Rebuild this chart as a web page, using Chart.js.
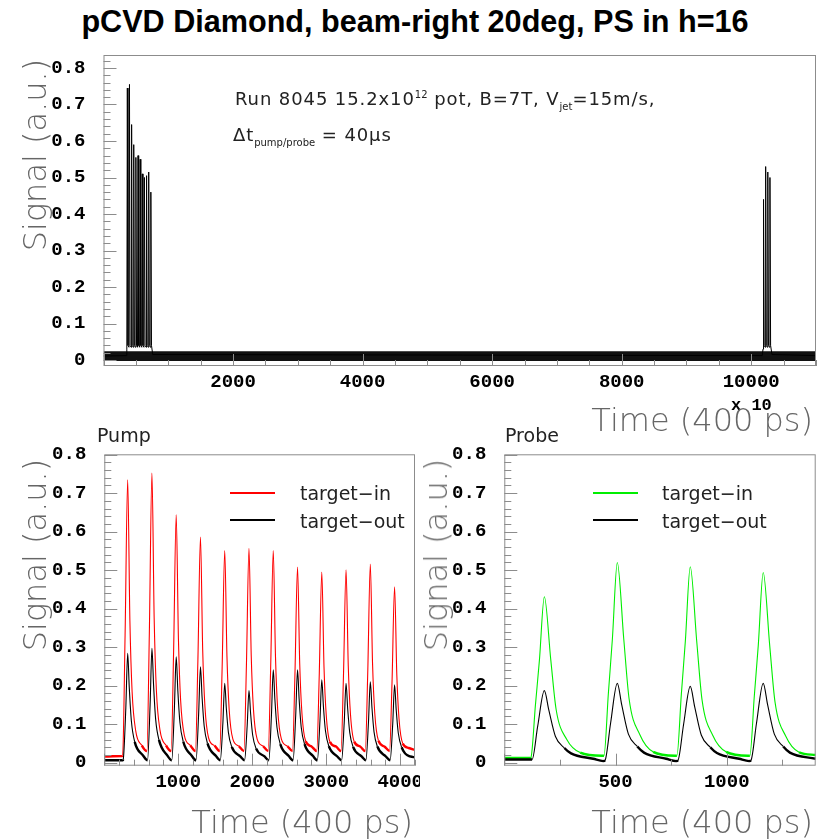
<!DOCTYPE html>
<html>
<head>
<meta charset="utf-8">
<script src="https://cdn.jsdelivr.net/npm/chart.js@4"></script>
<style>
  html, body { margin: 0; padding: 0; background: #fff; }
  #page { position: relative; width: 822px; height: 840px; overflow: hidden; }
  .box { position: absolute; }
  .box canvas { display: block; }
  .txt { position: absolute; white-space: nowrap; line-height: 1; }
  .axt { font-family: "DejaVu Sans", sans-serif; font-weight: 200; font-size: 32px; color: #666; }
  .rot { transform: translate(-50%, -50%) rotate(-90deg); }
  .note { font-family: "DejaVu Sans", sans-serif; font-size: 18px; color: #222; letter-spacing: 0.9px; }
  .note sub, .note sup { font-size: 10px; letter-spacing: 0; }
  .leg { font-family: "DejaVu Sans", sans-serif; font-size: 19px; color: #222; }
  .legline { position: absolute; width: 45px; height: 2px; }
</style>
</head>
<body>
<div id="page">
  <div class="box" style="left:0;top:40px;"><canvas id="overview" width="822" height="370"></canvas></div>
  <div class="box" style="left:0;top:420px;"><canvas id="pump" width="420" height="420"></canvas></div>
  <div class="box" style="left:410px;top:420px;"><canvas id="probe" width="412" height="420"></canvas></div>

  <div class="txt" style="left:0;width:830px;top:6px;text-align:center;font-family:'Liberation Sans',Arial,sans-serif;font-weight:bold;font-size:30.6px;color:#000;">pCVD Diamond, beam-right 20deg, PS in h=16</div>

  <div class="txt note" style="left:235px;top:90px;">Run 8045 15.2x10<sup>12</sup> pot, B=7T, V<sub>jet</sub>=15m/s,</div>
  <div class="txt note" style="left:233px;top:126px;">&Delta;t<sub>pump/probe</sub> = 40&mu;s</div>

  <div class="txt" style="left:731px;top:397px;font-family:'Liberation Mono',monospace;font-weight:bold;font-size:17px;color:#000;">x 10</div>

  <div class="txt axt rot" style="left:35px;top:155px;">Signal (a.u.)</div>
  <div class="txt axt" style="right:9px;top:404px;">Time (400 ps)</div>

  <div class="txt leg" style="left:97px;top:426px;">Pump</div>
  <div class="txt axt rot" style="left:35px;top:555px;">Signal (a.u.)</div>
  <div class="txt axt" style="right:409px;top:806px;">Time (400 ps)</div>
  <div class="legline" style="left:230px;top:492px;background:#ff0000;"></div>
  <div class="legline" style="left:230px;top:519px;background:#000;"></div>
  <div class="txt leg" style="left:300px;top:484px;">target&minus;in</div>
  <div class="txt leg" style="left:300px;top:512px;">target&minus;out</div>

  <div class="txt leg" style="left:505px;top:426px;">Probe</div>
  <div class="txt axt rot" style="left:436px;top:555px;">Signal (a.u.)</div>
  <div class="txt axt" style="right:9px;top:806px;">Time (400 ps)</div>
  <div class="legline" style="left:593px;top:492px;background:#00ee00;"></div>
  <div class="legline" style="left:593px;top:519px;background:#000;"></div>
  <div class="txt leg" style="left:662px;top:484px;">target&minus;in</div>
  <div class="txt leg" style="left:662px;top:512px;">target&minus;out</div>
</div>

<script>
// tick labels
const signalTicks = [0, 0.1, 0.2, 0.3, 0.4, 0.5, 0.6, 0.7, 0.8];
const overviewTimeTicks = [2000, 4000, 6000, 8000, 10000];
const pumpTimeTicks = [1000, 2000, 3000, 4000];
const probeTimeTicks = [500, 1000];

// overview trace (time in units of 10 x 400 ps)
const overviewTrace = [
  [0, 0.011], [355, 0.012],
  [360, 0.03], [368, 0.745], [378, 0.04],
  [393, 0.035], [401, 0.755], [411, 0.04],
  [426, 0.035], [434, 0.645], [444, 0.04],
  [459, 0.035], [467, 0.59], [477, 0.04],
  [492, 0.035], [500, 0.555], [510, 0.04],
  [525, 0.035], [533, 0.56], [543, 0.04],
  [558, 0.035], [566, 0.55], [576, 0.04],
  [591, 0.035], [599, 0.51], [609, 0.04],
  [624, 0.035], [632, 0.50], [642, 0.04],
  [657, 0.035], [665, 0.505], [675, 0.04],
  [690, 0.035], [698, 0.515], [708, 0.04],
  [723, 0.035], [731, 0.46], [741, 0.04],
  [760, 0.015], [10170, 0.012],
  [10182, 0.03], [10190, 0.44], [10200, 0.04],
  [10215, 0.035], [10223, 0.53], [10233, 0.04],
  [10248, 0.035], [10256, 0.515], [10266, 0.04],
  [10281, 0.035], [10289, 0.50], [10299, 0.04],
  [10320, 0.015], [11000, 0.012]
];
// noise envelope of the overview baseline
const overviewNoiseLow = [[0, -0.003], [11000, -0.003]];
const overviewNoiseHigh = [[0, 0.024], [11000, 0.024]];

// pump, target-in
const pumpIn = [
  [0, 0.016], [240, 0.017],
  [248, 0.018], [281, 0.331], [316, 0.735], [346, 0.368], [376, 0.184], [426, 0.081], [506, 0.045],
  [576, 0.03], [609, 0.338], [644, 0.752], [674, 0.376], [704, 0.188], [754, 0.083], [834, 0.045],
  [904, 0.03], [937, 0.29], [972, 0.644], [1002, 0.322], [1032, 0.161], [1082, 0.071], [1162, 0.045],
  [1232, 0.03], [1265, 0.264], [1300, 0.586], [1330, 0.293], [1360, 0.147], [1410, 0.064], [1490, 0.044],
  [1560, 0.03], [1593, 0.248], [1628, 0.551], [1658, 0.276], [1688, 0.138], [1738, 0.061], [1818, 0.043],
  [1888, 0.03], [1921, 0.251], [1956, 0.557], [1986, 0.279], [2016, 0.139], [2066, 0.061], [2146, 0.043],
  [2216, 0.03], [2249, 0.248], [2284, 0.551], [2314, 0.276], [2344, 0.138], [2394, 0.061], [2474, 0.043],
  [2544, 0.03], [2577, 0.229], [2612, 0.508], [2642, 0.254], [2672, 0.127], [2722, 0.056], [2802, 0.042],
  [2872, 0.03], [2905, 0.223], [2940, 0.495], [2970, 0.248], [3000, 0.124], [3050, 0.054], [3130, 0.042],
  [3200, 0.03], [3233, 0.225], [3268, 0.501], [3298, 0.251], [3328, 0.125], [3378, 0.055], [3458, 0.042],
  [3528, 0.03], [3561, 0.232], [3596, 0.516], [3626, 0.258], [3656, 0.129], [3706, 0.057], [3786, 0.042],
  [3856, 0.03], [3889, 0.206], [3924, 0.457], [3954, 0.229], [3984, 0.114], [4034, 0.05], [4114, 0.038], [4200, 0.033]
];
// pump, target-out
const pumpOut = [
  [0, 0.006], [250, 0.006],
  [256, 0.008], [291, 0.142], [316, 0.284], [338, 0.193], [366, 0.108], [411, 0.054], [526, 0.018],
  [584, 0.006], [619, 0.149], [644, 0.297], [666, 0.202], [694, 0.113], [739, 0.059], [854, 0.018],
  [912, 0.006], [947, 0.138], [972, 0.275], [994, 0.187], [1022, 0.105], [1067, 0.055], [1182, 0.018],
  [1240, 0.006], [1275, 0.125], [1300, 0.249], [1322, 0.169], [1350, 0.095], [1395, 0.05], [1510, 0.017],
  [1568, 0.006], [1603, 0.103], [1628, 0.206], [1650, 0.14], [1678, 0.078], [1723, 0.041], [1838, 0.016],
  [1896, 0.006], [1931, 0.094], [1956, 0.187], [1978, 0.127], [2006, 0.071], [2051, 0.037], [2166, 0.016],
  [2224, 0.006], [2259, 0.121], [2284, 0.241], [2306, 0.164], [2334, 0.092], [2379, 0.048], [2494, 0.017],
  [2552, 0.006], [2587, 0.121], [2612, 0.241], [2634, 0.164], [2662, 0.092], [2707, 0.048], [2822, 0.017],
  [2880, 0.006], [2915, 0.108], [2940, 0.215], [2962, 0.146], [2990, 0.082], [3035, 0.043], [3150, 0.016],
  [3208, 0.006], [3243, 0.103], [3268, 0.206], [3290, 0.14], [3318, 0.078], [3363, 0.041], [3478, 0.016],
  [3536, 0.006], [3571, 0.105], [3596, 0.21], [3618, 0.143], [3646, 0.08], [3691, 0.042], [3806, 0.016],
  [3864, 0.006], [3899, 0.101], [3924, 0.202], [3946, 0.137], [3974, 0.077], [4019, 0.04], [4134, 0.016], [4200, 0.014]
];

// probe, target-in
const probeIn = [
  [0, 0.012], [115, 0.012],
  [120, 0.014], [140, 0.15], [158, 0.267], [180, 0.431], [209, 0.267], [233, 0.138], [281, 0.06], [341, 0.026], [440, 0.018],
  [448, 0.018], [468, 0.181], [486, 0.322], [508, 0.52], [537, 0.322], [561, 0.166], [609, 0.073], [669, 0.028], [768, 0.018],
  [776, 0.018], [796, 0.178], [814, 0.316], [836, 0.509], [865, 0.316], [889, 0.163], [937, 0.071], [997, 0.028], [1096, 0.018],
  [1104, 0.018], [1124, 0.173], [1142, 0.306], [1164, 0.494], [1193, 0.306], [1217, 0.158], [1265, 0.069], [1325, 0.027], [1400, 0.02]
];
// probe, target-out
const probeOut = [
  [0, 0.008], [120, 0.008],
  [125, 0.008], [150, 0.094], [180, 0.187], [200, 0.137], [230, 0.068], [270, 0.038], [300, 0.024], [400, 0.01], [445, 0.004],
  [453, 0.006], [478, 0.103], [508, 0.206], [528, 0.15], [558, 0.074], [598, 0.042], [628, 0.026], [728, 0.01], [773, 0.004],
  [781, 0.006], [806, 0.099], [836, 0.198], [856, 0.145], [886, 0.071], [926, 0.04], [956, 0.025], [1056, 0.01], [1101, 0.004],
  [1109, 0.006], [1134, 0.103], [1164, 0.206], [1184, 0.15], [1214, 0.074], [1254, 0.042], [1284, 0.026], [1400, 0.01]
];

Chart.defaults.font.family = "'Liberation Mono', monospace";
Chart.defaults.color = '#000';

// ROOT style frame with ticks drawn on the inside
const rootFrame = {
  id: 'rootFrame',
  afterDraw(chart, args, opts) {
    const { ctx, chartArea: a, scales: { x, y } } = chart;
    ctx.save();
    ctx.strokeStyle = '#8c8c8c';
    ctx.lineWidth = 1;
    ctx.strokeRect(a.left + 0.5, a.top + 0.5, a.right - a.left - 1, a.bottom - a.top - 1);
    ctx.beginPath();
    for (let i = Math.ceil(y.min / opts.yMinor); i * opts.yMinor <= y.max; i++) {
      const py = Math.round(y.getPixelForValue(i * opts.yMinor)) + 0.5;
      const len = i % opts.yPer === 0 ? 13 : 7;
      ctx.moveTo(a.left, py); ctx.lineTo(a.left + len, py);
    }
    for (let i = Math.ceil(x.min / opts.xMinor); i * opts.xMinor <= x.max; i++) {
      const px = Math.round(x.getPixelForValue(i * opts.xMinor)) + 0.5;
      const len = i % opts.xPer === 0 ? 12 : 6;
      ctx.moveTo(px, a.bottom); ctx.lineTo(px, a.bottom - len);
    }
    ctx.stroke();
    ctx.restore();
  }
};

// noisy baseline looks thicker than the clean pulse edges
const noisyWidth = c => (c.p0.parsed.y < 0.06 && c.p1.parsed.y < 0.06) ? 2.4 : 1.1;

function makeChart(id, datasets, xr, xTicks, yr, yWidth, xHeight, pad, frame) {
  return new Chart(document.getElementById(id), {
    type: 'line',
    data: { datasets },
    options: {
      responsive: false,
      animation: false,
      devicePixelRatio: 1,
      layout: { padding: pad },
      plugins: { legend: { display: false }, tooltip: { enabled: false }, rootFrame: frame },
      elements: { point: { radius: 0 } },
      scales: {
        x: {
          type: 'linear', min: xr[0], max: xr[1],
          grid: { display: false, drawTicks: false }, border: { display: false },
          afterBuildTicks: s => { s.ticks = xTicks.map(v => ({ value: v })); },
          afterFit: s => { s.height = xHeight; s.paddingLeft = 0; s.paddingRight = 0; },
          ticks: { font: { size: 19, weight: 'bold' }, padding: 5, maxRotation: 0, autoSkip: false,
                   callback: v => String(v) }
        },
        y: {
          min: yr[0], max: yr[1],
          grid: { display: false, drawTicks: false }, border: { display: false },
          afterBuildTicks: s => { s.ticks = signalTicks.map(v => ({ value: v })); },
          afterFit: s => { s.width = yWidth; s.paddingTop = 0; s.paddingBottom = 0; },
          ticks: { font: { size: 19, weight: 'bold' }, padding: 18,
                   callback: v => v === 0 ? '0' : v.toFixed(1) }
        }
      }
    },
    plugins: [rootFrame]
  });
}

makeChart('overview', [
  { data: overviewTrace, borderColor: '#000', borderWidth: 1, tension: 0 },
  { data: overviewNoiseLow, borderWidth: 0, borderColor: 'rgba(0,0,0,0)' },
  { data: overviewNoiseHigh, borderWidth: 0, borderColor: 'rgba(0,0,0,0)', fill: '-1', backgroundColor: '#111' }
], [0, 11000], overviewTimeTicks, [-0.0164, 0.8356], 103.5, 44, { top: 15, right: 6, left: 0, bottom: 0 },
  { xMinor: 500, xPer: 4, yMinor: 0.02, yPer: 5 });

makeChart('pump', [
  { data: pumpOut, borderColor: '#000', borderWidth: 1.1, cubicInterpolationMode: 'monotone', segment: { borderWidth: noisyWidth } },
  { data: pumpIn, borderColor: '#ff0000', borderWidth: 1.1, cubicInterpolationMode: 'monotone', segment: { borderWidth: noisyWidth } }
], [0, 4200], pumpTimeTicks, [-0.008, 0.801], 104.3, 54.3, { top: 34.3, right: 5, left: 0, bottom: 20 },
  { xMinor: 200, xPer: 5, yMinor: 0.02, yPer: 5 });

makeChart('probe', [
  { data: probeOut, borderColor: '#000', borderWidth: 1.1, cubicInterpolationMode: 'monotone', segment: { borderWidth: noisyWidth } },
  { data: probeIn, borderColor: '#00ee00', borderWidth: 1.1, cubicInterpolationMode: 'monotone', segment: { borderWidth: noisyWidth } }
], [0, 1400], probeTimeTicks, [-0.008, 0.801], 94.3, 54.3, { top: 34.3, right: 6.3, left: 0, bottom: 20 },
  { xMinor: 250, xPer: 2, yMinor: 0.02, yPer: 5 });
</script>
</body>
</html>
